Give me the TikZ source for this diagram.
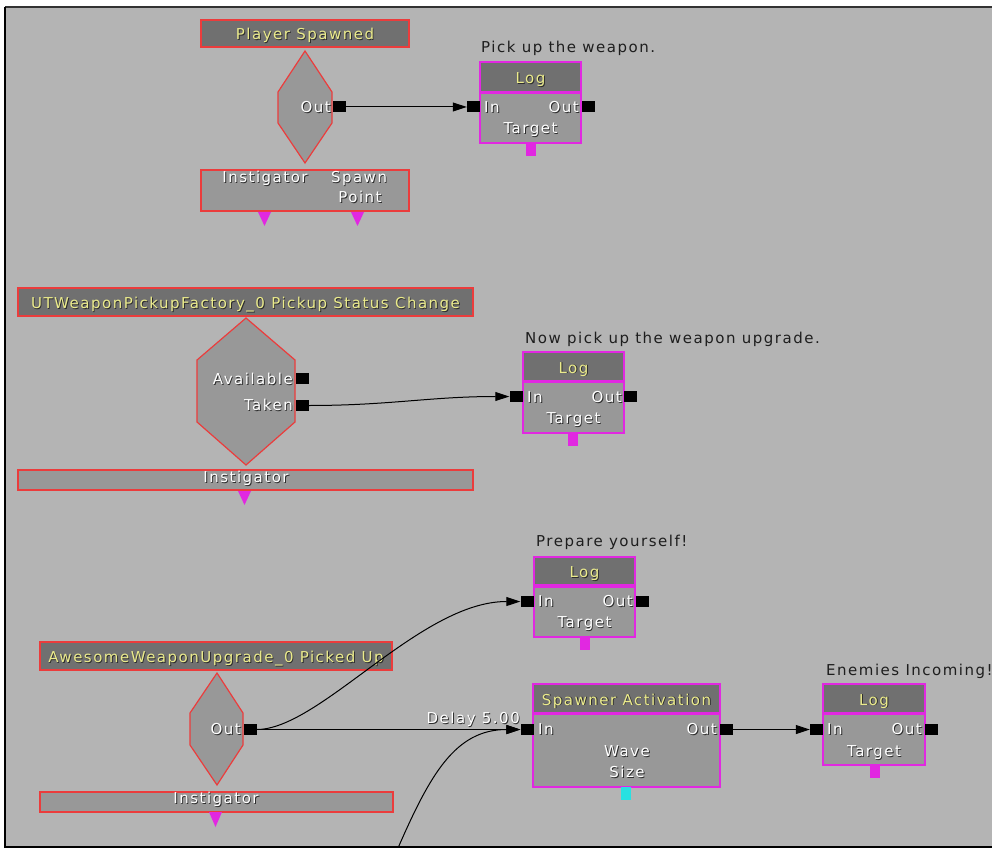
\documentclass[tikz,border=0pt]{standalone}
\usepackage{fontspec}
\setmainfont{DejaVu Sans}[LetterSpace=10]
\usetikzlibrary{arrows.meta}
\definecolor{bgg}{RGB}{180,180,180}
\definecolor{titleg}{RGB}{112,112,112}
\definecolor{bodyg}{RGB}{152,152,152}
\definecolor{evred}{RGB}{235,60,60}
\definecolor{magb}{RGB}{225,40,225}
\definecolor{ytext}{RGB}{235,235,140}
\definecolor{cyanv}{RGB}{40,225,225}
\definecolor{shadowc}{RGB}{45,45,45}
\definecolor{comm}{RGB}{30,30,30}
\newcommand\shd[1]{\leavevmode\rlap{\kern0.9pt\raisebox{-0.9pt}{\textcolor{shadowc}{#1}}}#1}
\tikzset{
 every node/.style={font=\fontsize{15}{17}\selectfont},
 evtitle/.style={draw=evred, fill=titleg, line width=1.2pt, inner sep=0pt, text=ytext, text height=13pt, text depth=0pt},
 evbar/.style={draw=evred, fill=bodyg, line width=1.2pt, inner sep=0pt},
 evhex/.style={draw=evred, fill=bodyg, line width=1.2pt},
 actitle/.style={draw=magb, fill=titleg, line width=1.2pt, inner sep=0pt, text=ytext, text height=13pt, text depth=0pt},
 acbody/.style={draw=magb, fill=bodyg, line width=1.2pt, inner sep=0pt},
 portlbl/.style={text=white, inner sep=0pt, text height=11pt, text depth=0pt},
 comment/.style={text=comm, inner sep=0pt, anchor=west, text height=11pt, text depth=0pt},
 port/.style={fill=black, minimum width=13pt, minimum height=11pt, inner sep=0pt},
 varsq/.style={fill=magb, minimum width=10pt, minimum height=13pt, inner sep=0pt},
 vartri/.style={fill=magb},
 link/.style={draw=black, line width=1pt, -{Triangle[length=14pt,width=9pt]}},
}
\begin{document}
\begin{tikzpicture}[x=1pt,y=-1pt]
\useasboundingbox (0,0) rectangle (992,850);
\fill[white] (0,0) rectangle (992,850);
\fill[bgg] (5,7) rectangle (992,847);
\draw[black!80, line width=1.5pt] (992,7) -- (5,7);
\draw[black, line width=2pt] (5,7) -- (5,847) -- (992,847);

% ---------- Player Spawned ----------
\node[evtitle, minimum width=208pt, minimum height=27pt] (pstitle) at (305,33.5) {\shd{Player Spawned}};
\draw[evhex] (305,51) -- (332,92) -- (332,123) -- (305,163) -- (278,123) -- (278,92) -- cycle;
\node[portlbl, anchor=east] (psoutl) at (331,107) {\shd{Out}};
\node[port] (psout) at (339,107) {};
\node[evbar, minimum width=208pt, minimum height=41pt] (psbar) at (305,190.5) {};
\node[portlbl] (psinst) at (265,177) {\shd{Instigator}};
\node[portlbl] (psspawn) at (359,177) {\shd{Spawn}};
\node[portlbl] (pspoint) at (360,197) {\shd{Point}};
\fill[vartri] (258,212) -- (271,212) -- (264.5,226) -- cycle;
\fill[vartri] (351,212) -- (364,212) -- (357.5,226) -- cycle;

% ---------- Log 1 ----------
\node[comment] (c1) at (481,47) {Pick up the weapon.};
\node[actitle, minimum width=101pt, minimum height=30pt] (l1t) at (530.5,77) {\shd{Log}};
\node[acbody, minimum width=101pt, minimum height=50pt] (l1b) at (530.5,118) {};
\node[port] (l1in) at (473.5,107) {};
\node[port] (l1out) at (588.5,107) {};
\node[portlbl, anchor=west] (l1inl) at (484,107) {\shd{In}};
\node[portlbl, anchor=east] (l1outl) at (579,107) {\shd{Out}};
\node[portlbl] (l1tg) at (530.5,128) {\shd{Target}};
\node[varsq] (l1v) at (531,149.5) {};

\draw[link] (psout.east) -- (l1in.west);

% ---------- Pickup Status Change ----------
\node[evtitle, minimum width=455pt, minimum height=28pt] (pftitle) at (245.5,302) {\shd{UTWeaponPickupFactory\_0 Pickup Status Change}};
\draw[evhex] (246,318) -- (295,360) -- (295,422) -- (246,465) -- (197,422) -- (197,360) -- cycle;
\node[portlbl, anchor=east] (pfavl) at (293,379) {\shd{Available}};
\node[port] (pfav) at (302,378.5) {};
\node[portlbl, anchor=east] (pftkl) at (293,405) {\shd{Taken}};
\node[port] (pftk) at (302,405.5) {};
\node[evbar, minimum width=455pt, minimum height=20pt] (pfbar) at (245.5,480) {};
\node[portlbl] (pfinst) at (246,477) {\shd{Instigator}};
\fill[vartri] (238,491) -- (251,491) -- (244.5,505) -- cycle;

% ---------- Log 2 ----------
\node[comment] (c2) at (525,338) {Now pick up the weapon upgrade.};
\node[actitle, minimum width=101pt, minimum height=29pt] (l2t) at (573.5,366.5) {\shd{Log}};
\node[acbody, minimum width=101pt, minimum height=51pt] (l2b) at (573.5,407.5) {};
\node[port] (l2in) at (516,396.5) {};
\node[port] (l2out) at (630.5,396.5) {};
\node[portlbl, anchor=west] (l2inl) at (527,397) {\shd{In}};
\node[portlbl, anchor=east] (l2outl) at (622,397) {\shd{Out}};
\node[portlbl] (l2tg) at (573.5,418) {\shd{Target}};
\node[varsq] (l2v) at (573,439.5) {};

\draw[link] (pftk.east) .. controls (390,405.5) and (430,396.5) .. (l2in.west);

% ---------- Picked Up ----------
\node[evtitle, minimum width=352pt, minimum height=28pt] (putitle) at (216,656) {\shd{AwesomeWeaponUpgrade\_0 Picked Up}};
\draw[evhex] (217,673) -- (243,713) -- (243,745) -- (217,785) -- (190,745) -- (190,713) -- cycle;
\node[portlbl, anchor=east] (puoutl) at (241,729) {\shd{Out}};
\node[port] (puout) at (250,729.5) {};
\node[evbar, minimum width=353pt, minimum height=20pt] (pubar) at (216.5,802) {};
\node[portlbl] (puinst) at (216,798) {\shd{Instigator}};
\fill[vartri] (209,812) -- (222,812) -- (215.5,827) -- cycle;

% ---------- Log 3 ----------
\node[comment] (c3) at (536,541) {Prepare yourself!};
\node[actitle, minimum width=101pt, minimum height=28pt] (l3t) at (584.5,571) {\shd{Log}};
\node[acbody, minimum width=101pt, minimum height=50pt] (l3b) at (584.5,612) {};
\node[port] (l3in) at (527,601.5) {};
\node[port] (l3out) at (642,601.5) {};
\node[portlbl, anchor=west] (l3inl) at (538,601) {\shd{In}};
\node[portlbl, anchor=east] (l3outl) at (633,601) {\shd{Out}};
\node[portlbl] (l3tg) at (584.5,622) {\shd{Target}};
\node[varsq] (l3v) at (585,643.5) {};

% ---------- Spawner Activation ----------
\node[actitle, minimum width=187pt, minimum height=29pt] (spt) at (626.5,698.5) {\shd{Spawner Activation}};
\node[acbody, minimum width=187pt, minimum height=73pt] (spb) at (626.5,750.5) {};
\node[port] (spin) at (527,729.5) {};
\node[port] (spout) at (726.5,729.5) {};
\node[portlbl, anchor=west] (spinl) at (538,729) {\shd{In}};
\node[portlbl, anchor=east] (spoutl) at (717,729) {\shd{Out}};
\node[portlbl] (spwave) at (627,751) {\shd{Wave}};
\node[portlbl] (spsize) at (627,772) {\shd{Size}};
\node[fill=cyanv, minimum width=10pt, minimum height=13pt, inner sep=0pt] (spv) at (626,793.5) {};

% ---------- Log 4 ----------
\node[comment] (c4) at (826,670) {Enemies Incoming!};
\node[actitle, minimum width=102pt, minimum height=29pt] (l4t) at (874,698.5) {\shd{Log}};
\node[acbody, minimum width=102pt, minimum height=51pt] (l4b) at (874,739.5) {};
\node[port] (l4in) at (816.5,729.5) {};
\node[port] (l4out) at (931.5,729.5) {};
\node[portlbl, anchor=west] (l4inl) at (827,729) {\shd{In}};
\node[portlbl, anchor=east] (l4outl) at (922,729) {\shd{Out}};
\node[portlbl] (l4tg) at (874,751) {\shd{Target}};
\node[varsq] (l4v) at (875,771.5) {};

% ---------- connectors ----------
\draw[link] (puout.east) .. controls (320,729.5) and (420,601.5) .. (l3in.west);
\draw[link] (puout.east) -- (spin.west);
\node[portlbl, anchor=east] (delay) at (520,718) {\shd{Delay 5.00}};
\draw[link] (spout.east) -- (l4in.west);
\coordinate (offb) at (398,848);
\begin{scope}
\clip (5,7) rectangle (992,846);
\draw[link] (offb) .. controls (430,775) and (455,729.5) .. (spin.west);
\end{scope}
\end{tikzpicture}
\end{document}
